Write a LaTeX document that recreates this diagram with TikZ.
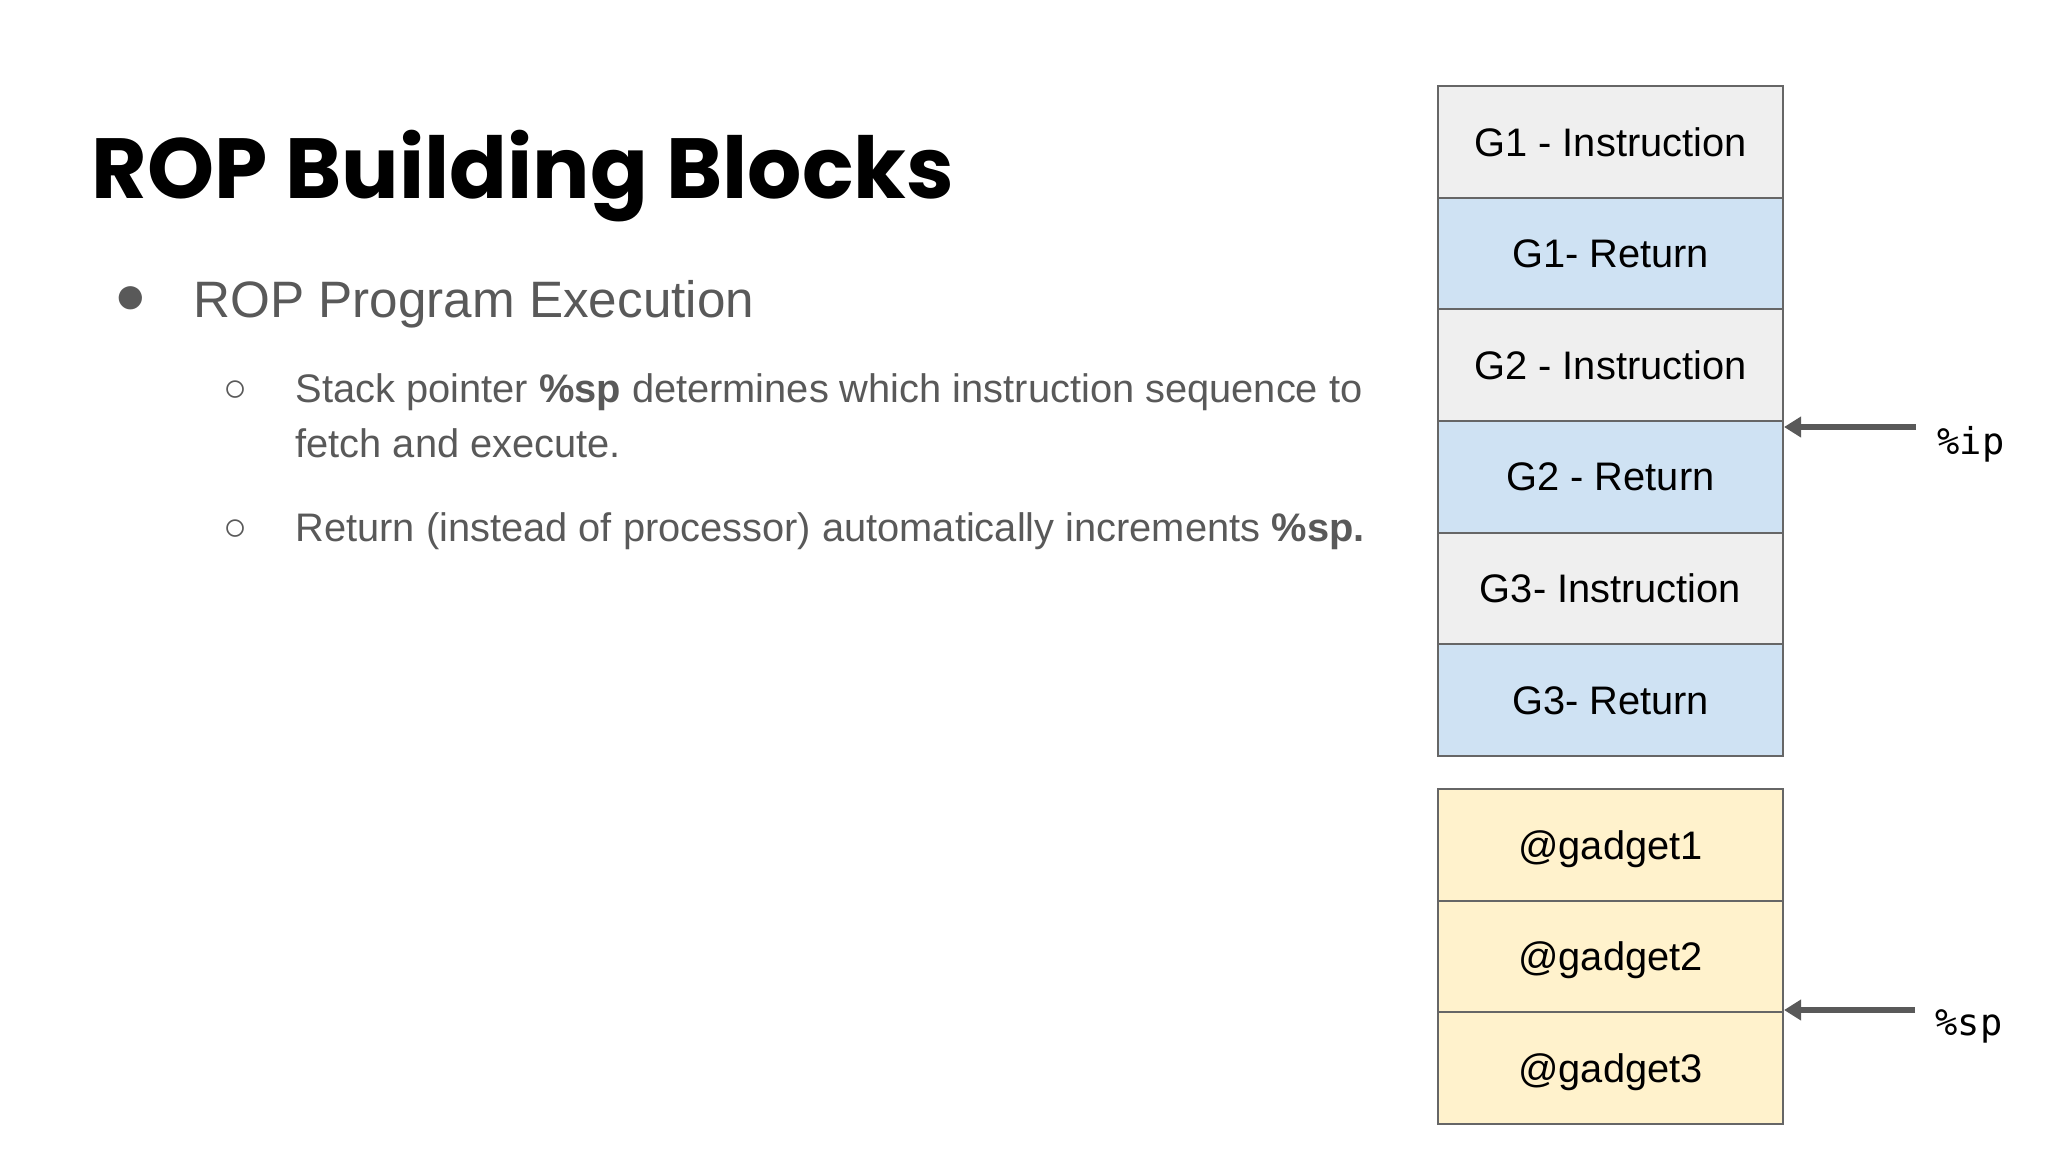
\documentclass[tikz,border=0pt]{standalone}
\usepackage{fontspec}
\setmainfont{Liberation Sans}
\newfontfamily\titlefont{Poppins}
\newfontfamily\monofont{DejaVu Sans Mono}
\usetikzlibrary{arrows.meta}
\definecolor{txtgray}{HTML}{595959}
\definecolor{instr}{HTML}{EFEFEF}
\definecolor{retc}{HTML}{CFE2F3}
\definecolor{gadc}{HTML}{FFF2CC}
\definecolor{edgec}{HTML}{666666}
\definecolor{arrowc}{HTML}{595959}
\begin{document}
\begin{tikzpicture}[x=0.3515625pt,y=-0.3515625pt,
  cell/.style={draw=edgec, line width=0.7pt, minimum width=121.3pt, minimum height=39.26pt,
    inner sep=0pt, text depth=0pt, font=\fontsize{14}{16}\selectfont, text=black},
  ptr/.style={draw=arrowc, line width=2pt, -{Triangle[length=6pt,width=7pt]}},
  bodytxt/.style={anchor=base west, inner sep=0pt, text=txtgray, font=\fontsize{14}{16}\selectfont},
  bul/.style={anchor=center, inner sep=0pt, text=txtgray},
  reglab/.style={anchor=west, inner sep=0pt, text=black, font=\monofont\fontsize{13}{15}\selectfont}]
\useasboundingbox[fill=white] (0,0) rectangle (2048,1152);

% title and bullets
\node[anchor=base west, inner sep=0pt, font=\titlefont\bfseries\fontsize{30}{34}\selectfont] (title) at (91,198) {ROP Building Blocks};
\node[bul, font=\fontsize{19}{21}\selectfont] (b1) at (131,300) {●};
\node[bodytxt, font=\fontsize{18}{20}\selectfont] (t1) at (193,317) {ROP Program Execution};
\node[bul, font=\fontsize{14}{16}\selectfont] (b2) at (236,391) {○};
\node[bodytxt] (t2a) at (295,402) {Stack pointer \textbf{\%sp} determines which instruction sequence to};
\node[bodytxt] (t2b) at (295,457) {fetch and execute.};
\node[bul, font=\fontsize{14}{16}\selectfont] (b3) at (236,530) {○};
\node[bodytxt] (t3) at (295,541) {Return (instead of processor) automatically increments \textbf{\%sp.}};

% stack
\node[cell, fill=instr] (r1) at (1610.5,141.8) {G1 - Instruction};
\node[cell, fill=retc]  (r2) at (1610.5,253.5) {G1- Return};
\node[cell, fill=instr] (r3) at (1610.5,365.2) {G2 - Instruction};
\node[cell, fill=retc]  (r4) at (1610.5,476.8) {G2 - Return};
\node[cell, fill=instr] (r5) at (1610.5,588.5) {G3- Instruction};
\node[cell, fill=retc]  (r6) at (1610.5,700.2) {G3- Return};

\node[cell, fill=gadc] (g1) at (1610.5,844.8) {@gadget1};
\node[cell, fill=gadc] (g2) at (1610.5,956.5) {@gadget2};
\node[cell, fill=gadc] (g3) at (1610.5,1068.2) {@gadget3};

% pointers
\coordinate (ipc) at (1916,427);
\coordinate (spc) at (1915,1010);
\draw[ptr] (ipc) -- (ipc -| r4.east);
\draw[ptr] (spc) -- (spc -| g3.east);
\node[reglab] (iplab) at (1937,444) {\%ip};
\node[reglab] (splab) at (1935,1026) {\%sp};
\end{tikzpicture}
\end{document}
